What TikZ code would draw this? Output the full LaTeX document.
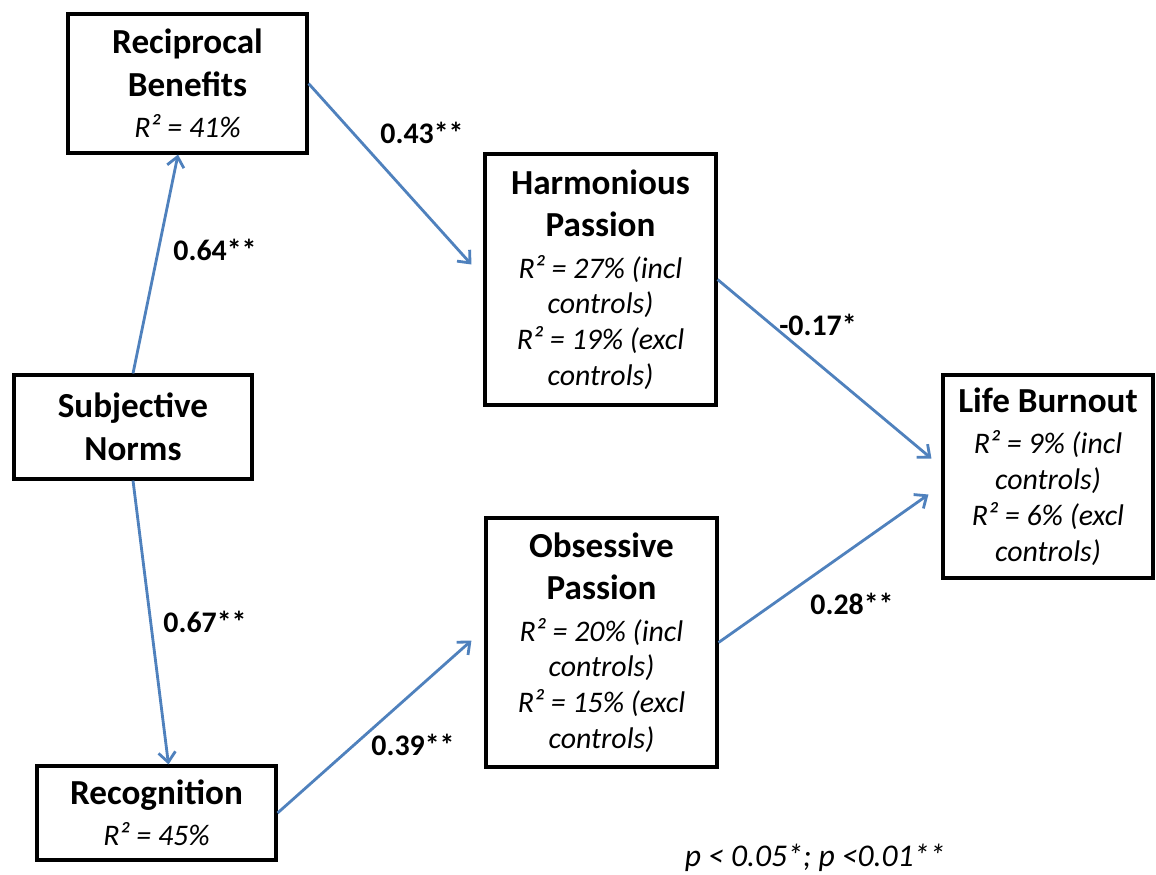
\documentclass[tikz,border=0pt]{standalone}
\usepackage{fontspec}
\setmainfont{Carlito}
\usetikzlibrary{calc}
\usetikzlibrary{arrows.meta}
\definecolor{pathblue}{RGB}{79,129,189}
\newcommand\ttl[1]{{\fontsize{20}{24}\selectfont\upshape\bfseries #1}}

\begin{document}
\begin{tikzpicture}[x=0.02cm,y=-0.02cm,
  box/.style={draw,line width=1.8pt,align=center,inner sep=0pt,font=\fontsize{17}{20.4}\selectfont\itshape},
  link/.style={draw=pathblue,line width=1.6pt,-{Straight Barb[length=2mm,width=3.4mm]}},
  coef/.style={font=\fontsize{17}{20}\selectfont\bfseries}]
\useasboundingbox (0,0) rectangle (1156,875);
\node[box,minimum width=4.78cm,minimum height=2.78cm] (rb) at (187.5,83.5)
  {\ttl{Reciprocal}\\[4pt]\ttl{Benefits}\\[3pt]R² = 41\%};
\node[box,minimum width=4.62cm,minimum height=5.02cm] (hp) at (600.5,279.5)
  {\ttl{Harmonious}\\[4pt]\ttl{Passion}\\[3pt]R² = 27\% (incl\\controls)\\R² = 19\% (excl\\controls)};
\node[box,minimum width=4.76cm,minimum height=2.08cm] (sn) at (133,427)
  {\ttl{Subjective}\\[4pt]\ttl{Norms}};
\node[box,minimum width=4.2cm,minimum height=4.06cm] (lb) at (1048,476.5)
  {\ttl{Life Burnout}\\[3pt]R² = 9\% (incl\\controls)\\R² = 6\% (excl\\controls)};
\node[box,minimum width=4.62cm,minimum height=4.98cm] (op) at (601.5,642.5)
  {\ttl{Obsessive}\\[4pt]\ttl{Passion}\\[3pt]R² = 20\% (incl\\controls)\\R² = 15\% (excl\\controls)};
\node[box,minimum width=4.78cm,minimum height=1.88cm] (rc) at (156.5,813)
  {\ttl{Recognition}\\[3pt]R² = 45\%};
% paths
\foreach \s/\t/\dx/\dy in {sn.north/rb.south/-9.5/0, rb.east/hp.west/-12/-15,
  hp.east/lb.west/-10/-18, sn.south/rc.north/12/0, rc.east/op.west/-13/-2,
  op.east/lb.west/-13/18}
  \draw[link] (\s) -- ($(\t)+(\dx,\dy)$);
\node[coef] (c1) at (215,250) {0.64**};
\node[coef] (c2) at (422,133) {0.43**};
\node[coef] (c3) at (818,325) {-0.17*};
\node[coef] (c4) at (205,622) {0.67**};
\node[coef] (c5) at (413,745) {0.39**};
\node[coef] (c6) at (852,604) {0.28**};
\node[font=\fontsize{18}{20}\selectfont\itshape] (note) at (815,858) {p < 0.05*; p <0.01**};
\end{tikzpicture}
\end{document}
